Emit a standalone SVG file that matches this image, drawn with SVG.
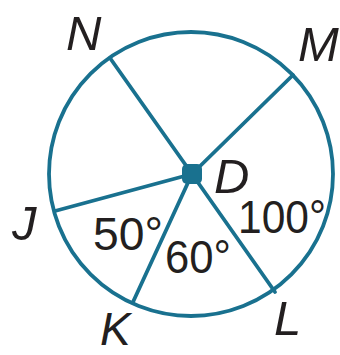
<svg xmlns="http://www.w3.org/2000/svg" width="340" height="355" viewBox="0 0 340 355">
<style>
.ln{stroke:#19718f;stroke-width:3.8;fill:none;stroke-linecap:round}
.lb{font-family:"Liberation Sans",Arial,sans-serif;font-style:italic;font-size:49px;fill:#231f20}
.dg{font-family:"Liberation Sans",Arial,sans-serif;font-size:47px;fill:#231f20}
</style>
<rect width="340" height="355" fill="#fff"/>
<g id="circle"><circle class="ln" cx="191" cy="174" r="142"/></g>
<g id="connectors">
<line class="ln" x1="192" y1="174" x2="110" y2="58"/>
<line class="ln" x1="192" y1="174" x2="293" y2="75"/>
<line class="ln" x1="192" y1="174" x2="55" y2="211"/>
<line class="ln" x1="192" y1="174" x2="133" y2="302"/>
<line class="ln" x1="192" y1="174" x2="275" y2="292"/>
</g>
<g id="D"><rect x="182" y="164" width="20" height="20" rx="5" fill="#19718f"/><text class="lb" x="214" y="193">D</text></g>
<g id="N"><text class="lb" x="66" y="50">N</text></g>
<g id="M"><text class="lb" x="298" y="61">M</text></g>
<g id="J"><text class="lb" x="12" y="240">J</text></g>
<g id="K"><text class="lb" x="100" y="345" style="font-size:46px">K</text></g>
<g id="L"><text class="lb" x="274" y="335">L</text></g>
<g id="angles">
<text class="dg" x="93" y="250" textLength="70" lengthAdjust="spacingAndGlyphs">50°</text>
<text class="dg" x="165" y="273" textLength="66" lengthAdjust="spacingAndGlyphs">60°</text>
<text class="dg" x="238" y="233" textLength="88" lengthAdjust="spacingAndGlyphs">100°</text>
</g>
</svg>
